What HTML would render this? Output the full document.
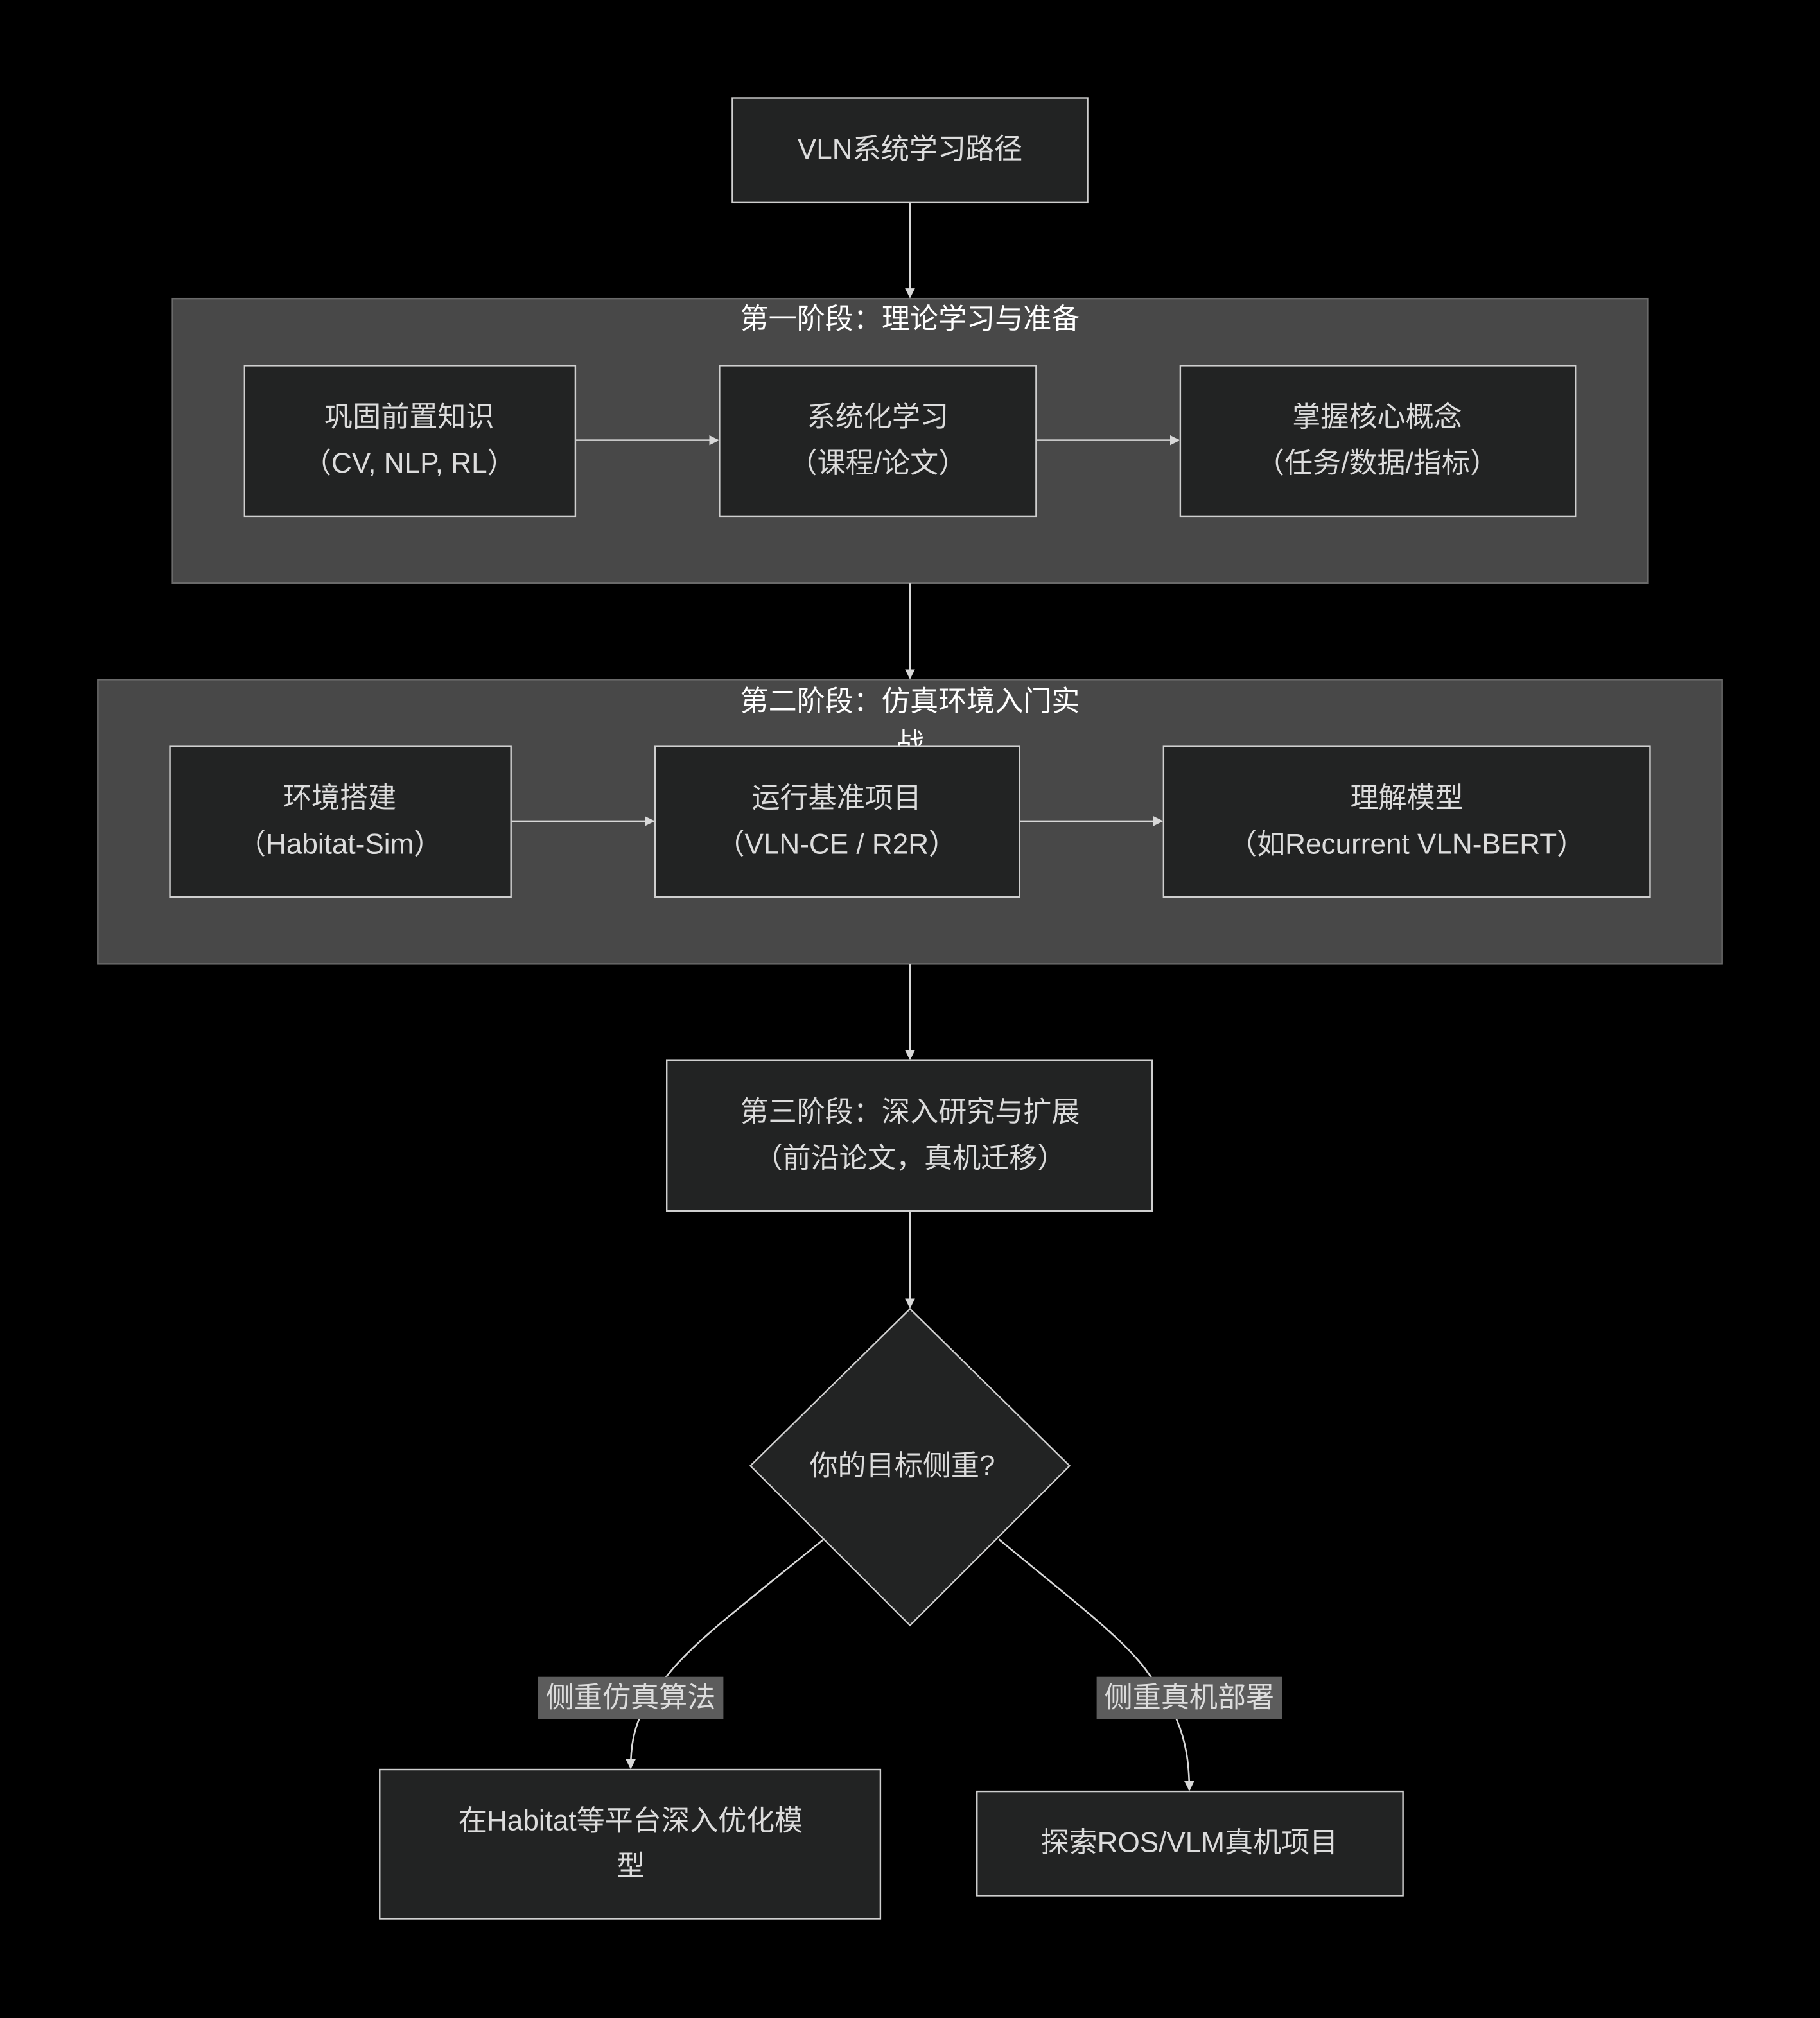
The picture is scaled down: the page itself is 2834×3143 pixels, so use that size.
<!DOCTYPE html>
<html><head><meta charset="utf-8"><style>
html,body{margin:0;padding:0;background:#000;}
svg{display:block}
text{font-family:"Liberation Sans","Noto Sans CJK SC",sans-serif;font-size:22px;fill:#dcdcdc;text-anchor:middle;dominant-baseline:central}
.n{fill:#222323;stroke:#cfcfcf;stroke-width:1.2}
.c{fill:#484848;stroke:#6a6a6a;stroke-width:1.2}
.e{stroke:#d8d8d8;stroke-width:1.3;fill:none}
.t{fill:#ffffff}
</style></head><body>
<svg width="2834" height="3143" viewBox="0 0 1414 1568" xmlns="http://www.w3.org/2000/svg">
<defs><marker id="a" viewBox="0 0 10 10" refX="9" refY="5" markerWidth="6" markerHeight="6" orient="auto"><path d="M0,0L10,5L0,10z" fill="#d8d8d8"/></marker></defs>
<rect width="1414" height="1568" fill="#000"/>
<rect class="c" x="134" y="232" width="1146" height="221"/>
<rect class="c" x="76" y="528" width="1262" height="221"/>
<text class="t" x="707" y="248">第一阶段：理论学习与准备</text>
<text class="t" x="707" y="545">第二阶段：仿真环境入门实</text>
<text class="t" x="707" y="578">战</text>
<path class="e" marker-end="url(#a)" d="M707,157V231"/>
<path class="e" marker-end="url(#a)" d="M447,342H558"/>
<path class="e" marker-end="url(#a)" d="M805,342H916"/>
<path class="e" marker-end="url(#a)" d="M707,453V527"/>
<path class="e" marker-end="url(#a)" d="M397,638H508"/>
<path class="e" marker-end="url(#a)" d="M792,638H903"/>
<path class="e" marker-end="url(#a)" d="M707,749V823"/>
<path class="e" marker-end="url(#a)" d="M707,941V1016"/>
<path class="e" marker-end="url(#a)" d="M640,1196C580,1245 540,1275 520,1300C500,1325 490,1340 490,1374"/>
<path class="e" marker-end="url(#a)" d="M776,1196C835,1245 875,1275 892,1300C910,1325 924,1345 924,1391"/>
<rect class="n" x="569" y="76" width="276" height="81"/>
<text x="707" y="116">VLN系统学习路径</text>
<rect class="n" x="190" y="284" width="257" height="117"/>
<text x="318" y="324">巩固前置知识</text><text x="318" y="360">（CV, NLP, RL）</text>
<rect class="n" x="559" y="284" width="246" height="117"/>
<text x="682" y="324">系统化学习</text><text x="682" y="360">（课程/论文）</text>
<rect class="n" x="917" y="284" width="307" height="117"/>
<text x="1070" y="324">掌握核心概念</text><text x="1070" y="360">（任务/数据/指标）</text>
<rect class="n" x="132" y="580" width="265" height="117"/>
<text x="264" y="620">环境搭建</text><text x="264" y="656">（Habitat-Sim）</text>
<rect class="n" x="509" y="580" width="283" height="117"/>
<text x="650" y="620">运行基准项目</text><text x="650" y="656">（VLN-CE / R2R）</text>
<rect class="n" x="904" y="580" width="378" height="117"/>
<text x="1093" y="620">理解模型</text><text x="1093" y="656">（如Recurrent VLN-BERT）</text>
<rect class="n" x="518" y="824" width="377" height="117"/>
<text x="707" y="864">第三阶段：深入研究与扩展</text><text x="707" y="900">（前沿论文，真机迁移）</text>
<polygon class="n" points="707,1017 831,1139 707,1263 583,1139"/>
<text x="701" y="1139">你的目标侧重?</text>
<rect x="418" y="1303" width="144" height="33" fill="#5c5c5c"/>
<text x="490" y="1319">侧重仿真算法</text>
<rect x="852" y="1303" width="144" height="33" fill="#5c5c5c"/>
<text x="924" y="1319">侧重真机部署</text>
<rect class="n" x="295" y="1375" width="389" height="116"/>
<text x="490" y="1415">在Habitat等平台深入优化模</text><text x="490" y="1450">型</text>
<rect class="n" x="759" y="1392" width="331" height="81"/>
<text x="924" y="1432">探索ROS/VLM真机项目</text>
</svg>
</body></html>
